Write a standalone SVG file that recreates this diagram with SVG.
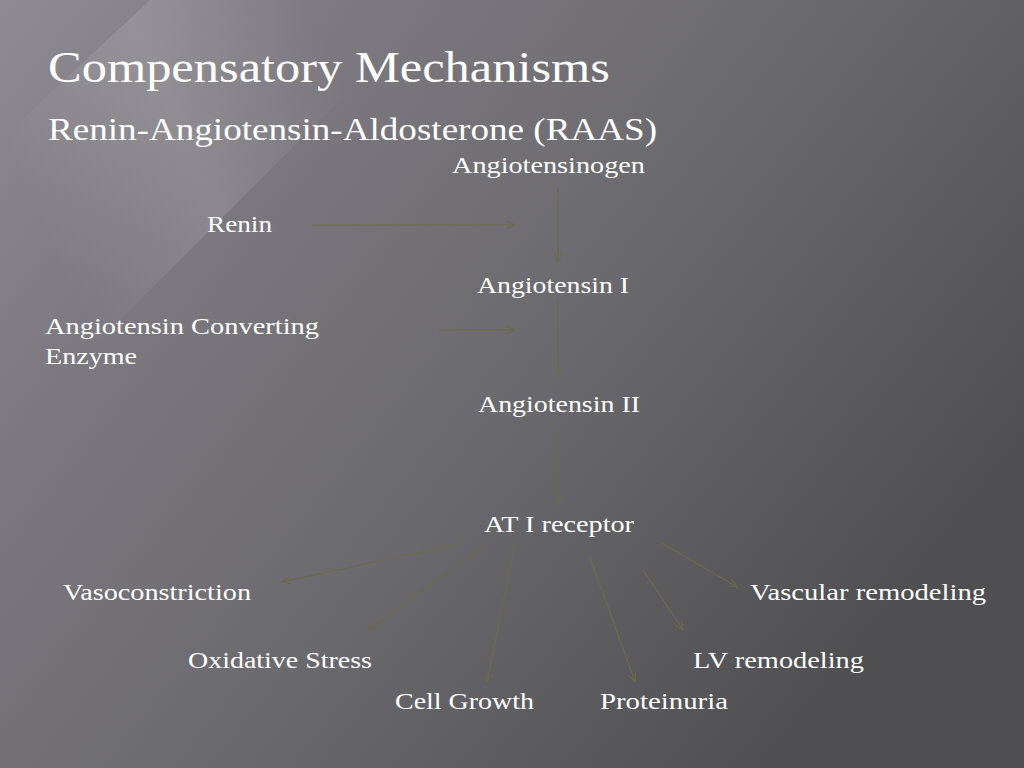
<svg xmlns="http://www.w3.org/2000/svg" width="1024" height="768" viewBox="0 0 1024 768">
<defs>
<linearGradient id="bg" x1="0" y1="0" x2="1" y2="0.6">
<stop offset="0" stop-color="#8e8c92"/><stop offset="0.25" stop-color="#7c7a80"/><stop offset="0.6" stop-color="#6a696d"/><stop offset="1" stop-color="#4f4e51"/>
</linearGradient>
<linearGradient id="streak" x1="0" y1="0.3" x2="0.7" y2="0">
<stop offset="0" stop-color="#fff" stop-opacity="0"/><stop offset="0.5" stop-color="#fff" stop-opacity="0.12"/><stop offset="1" stop-color="#fff" stop-opacity="0"/>
</linearGradient>
<marker id="ah" markerWidth="10" markerHeight="8" refX="9" refY="4" orient="auto" markerUnits="userSpaceOnUse">
<path d="M0,0 L9,4 L0,8" fill="none" stroke="#6b6b4a" stroke-width="1"/>
</marker>
<style>
text{font-family:"Liberation Serif","DejaVu Serif",serif;fill:#fff}
.t{font-size:23px}
line{stroke:#6b6b4a;stroke-width:1.2;marker-end:url(#ah)}
</style>
</defs>
<rect width="1024" height="768" fill="url(#bg)"/>
<polygon points="0,140 150,0 440,0 0,440" fill="url(#streak)"/>
<text x="48" y="82" font-size="44" textLength="562" lengthAdjust="spacingAndGlyphs">Compensatory Mechanisms</text>
<text x="48" y="140" font-size="32" textLength="609" lengthAdjust="spacingAndGlyphs">Renin-Angiotensin-Aldosterone (RAAS)</text>
<g id="angiotensinogen"><text class="t" x="452" y="173" textLength="193" lengthAdjust="spacingAndGlyphs">Angiotensinogen</text></g>
<g id="renin"><text class="t" x="207" y="232" textLength="65" lengthAdjust="spacingAndGlyphs">Renin</text></g>
<g id="angiotensin1"><text class="t" x="477" y="293" textLength="152" lengthAdjust="spacingAndGlyphs">Angiotensin I</text></g>
<g id="ace"><text class="t" x="45" y="334" textLength="274" lengthAdjust="spacingAndGlyphs">Angiotensin Converting</text><text class="t" x="45" y="364" textLength="92" lengthAdjust="spacingAndGlyphs">Enzyme</text></g>
<g id="angiotensin2"><text class="t" x="478" y="412" textLength="162" lengthAdjust="spacingAndGlyphs">Angiotensin II</text></g>
<g id="at1"><text class="t" x="484" y="532" textLength="150" lengthAdjust="spacingAndGlyphs">AT I receptor</text></g>
<g id="vasoconstriction"><text class="t" x="63" y="600" textLength="188" lengthAdjust="spacingAndGlyphs">Vasoconstriction</text></g>
<g id="vascular"><text class="t" x="750" y="600" textLength="236" lengthAdjust="spacingAndGlyphs">Vascular remodeling</text></g>
<g id="oxidative"><text class="t" x="188" y="668" textLength="184" lengthAdjust="spacingAndGlyphs">Oxidative Stress</text></g>
<g id="lv"><text class="t" x="693" y="668" textLength="171" lengthAdjust="spacingAndGlyphs">LV remodeling</text></g>
<g id="cellgrowth"><text class="t" x="395" y="709" textLength="139" lengthAdjust="spacingAndGlyphs">Cell Growth</text></g>
<g id="proteinuria"><text class="t" x="600" y="709" textLength="128" lengthAdjust="spacingAndGlyphs">Proteinuria</text></g>
<g id="connectors">
<line x1="312" y1="225" x2="515" y2="225"/>
<line x1="558" y1="188" x2="558" y2="262"/>
<line x1="438" y1="330" x2="515" y2="330"/>
<line x1="558" y1="300" x2="558" y2="376"/>
<line x1="558" y1="428" x2="558" y2="503"/>
<line x1="462" y1="543" x2="282" y2="582"/>
<line x1="485" y1="545" x2="368" y2="630"/>
<line x1="515" y1="543" x2="487" y2="682"/>
<line x1="590" y1="557" x2="635" y2="682"/>
<line x1="643" y1="570" x2="683" y2="630"/>
<line x1="660" y1="542" x2="737" y2="587"/>
</g>
</svg>
